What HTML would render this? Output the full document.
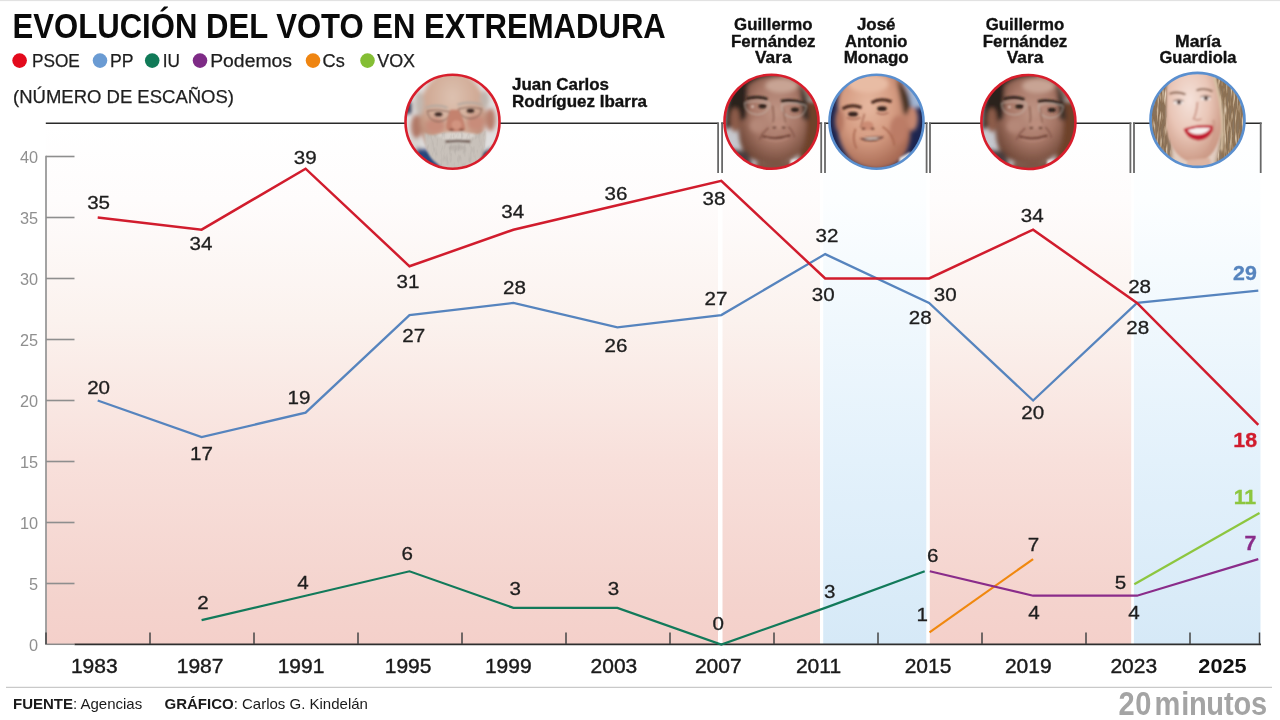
<!DOCTYPE html><html><head><meta charset="utf-8"><title>Evolución del voto en Extremadura</title>
<style>html,body{margin:0;padding:0;background:#fff;}body{width:1280px;height:720px;overflow:hidden;}svg{display:block;}text{font-family:"Liberation Sans", Arial, sans-serif;}</style></head><body>
<svg width="1280" height="720" viewBox="0 0 1280 720">
<defs>
<linearGradient id="gp" x1="0" y1="0" x2="0" y2="1"><stop offset="0" stop-color="#ffffff"/><stop offset="0.148" stop-color="#fefcfc"/><stop offset="0.378" stop-color="#fbf2ee"/><stop offset="0.647" stop-color="#f8e0db"/><stop offset="0.916" stop-color="#f4d3cd"/><stop offset="1" stop-color="#f4d0ca"/></linearGradient>
<linearGradient id="gb" x1="0" y1="0" x2="0" y2="1"><stop offset="0" stop-color="#ffffff"/><stop offset="0.148" stop-color="#fcfeff"/><stop offset="0.378" stop-color="#f0f8fd"/><stop offset="0.647" stop-color="#e3f1fb"/><stop offset="0.916" stop-color="#d9ebf8"/><stop offset="1" stop-color="#d6e9f7"/></linearGradient>
</defs>
<rect x="0" y="0" width="1280" height="720" fill="#fff"/>
<rect x="0" y="0" width="1280" height="1.1" fill="#e2e2e2"/>
<rect x="46.0" y="123" width="672.0" height="521" fill="url(#gp)"/>
<rect x="722.5" y="123" width="97.5" height="521" fill="url(#gp)"/>
<rect x="823.2" y="123" width="103.1" height="521" fill="url(#gb)"/>
<rect x="929.8" y="123" width="201.4" height="521" fill="url(#gp)"/>
<rect x="1133.9" y="123" width="126.6" height="521" fill="url(#gb)"/>
<text x="12.6" y="38.2" font-size="34.2" font-weight="bold" fill="#0a0a0a" textLength="653.2" lengthAdjust="spacingAndGlyphs">EVOLUCIÓN DEL VOTO EN EXTREMADURA</text>
<circle cx="19.6" cy="60.6" r="7.3" fill="#e30a1c"/>
<text x="31.9" y="66.6" font-size="18" fill="#1e1e1e" stroke="#1e1e1e" stroke-width="0.25" textLength="47.9" lengthAdjust="spacingAndGlyphs">PSOE</text>
<circle cx="100.0" cy="60.6" r="7.3" fill="#6a9bd3"/>
<text x="110.1" y="66.6" font-size="18" fill="#1e1e1e" stroke="#1e1e1e" stroke-width="0.25" textLength="23.5" lengthAdjust="spacingAndGlyphs">PP</text>
<circle cx="152.2" cy="60.6" r="7.3" fill="#117a58"/>
<text x="162.8" y="66.6" font-size="18" fill="#1e1e1e" stroke="#1e1e1e" stroke-width="0.25" textLength="17.2" lengthAdjust="spacingAndGlyphs">IU</text>
<circle cx="200.0" cy="60.6" r="7.3" fill="#7e2b86"/>
<text x="210.2" y="66.6" font-size="18" fill="#1e1e1e" stroke="#1e1e1e" stroke-width="0.25" textLength="81.8" lengthAdjust="spacingAndGlyphs">Podemos</text>
<circle cx="313.0" cy="60.6" r="7.3" fill="#ef8511"/>
<text x="322.6" y="66.6" font-size="18" fill="#1e1e1e" stroke="#1e1e1e" stroke-width="0.25" textLength="22.2" lengthAdjust="spacingAndGlyphs">Cs</text>
<circle cx="367.5" cy="60.6" r="7.3" fill="#84be34"/>
<text x="377.2" y="66.6" font-size="18" fill="#1e1e1e" stroke="#1e1e1e" stroke-width="0.25" textLength="37.9" lengthAdjust="spacingAndGlyphs">VOX</text>
<text x="13" y="102.7" font-size="18.4" fill="#1e1e1e" stroke="#1e1e1e" stroke-width="0.25" textLength="221" lengthAdjust="spacingAndGlyphs">(NÚMERO DE ESCAÑOS)</text>
<text x="512.0" y="90.4" font-size="17" font-weight="bold" fill="#111" stroke="#111" stroke-width="0.35" text-anchor="start" textLength="97.0" lengthAdjust="spacingAndGlyphs">Juan Carlos</text>
<text x="512.0" y="107.3" font-size="17" font-weight="bold" fill="#111" stroke="#111" stroke-width="0.35" text-anchor="start" textLength="135.0" lengthAdjust="spacingAndGlyphs">Rodríguez Ibarra</text>
<text x="773.3" y="29.5" font-size="17" font-weight="bold" fill="#111" stroke="#111" stroke-width="0.35" text-anchor="middle" textLength="78.5" lengthAdjust="spacingAndGlyphs">Guillermo</text>
<text x="773.3" y="46.7" font-size="17" font-weight="bold" fill="#111" stroke="#111" stroke-width="0.35" text-anchor="middle" textLength="84.5" lengthAdjust="spacingAndGlyphs">Fernández</text>
<text x="773.3" y="63.3" font-size="17" font-weight="bold" fill="#111" stroke="#111" stroke-width="0.35" text-anchor="middle" textLength="36.5" lengthAdjust="spacingAndGlyphs">Vara</text>
<text x="876.2" y="29.5" font-size="17" font-weight="bold" fill="#111" stroke="#111" stroke-width="0.35" text-anchor="middle" textLength="38.5" lengthAdjust="spacingAndGlyphs">José</text>
<text x="876.2" y="46.7" font-size="17" font-weight="bold" fill="#111" stroke="#111" stroke-width="0.35" text-anchor="middle" textLength="62.5" lengthAdjust="spacingAndGlyphs">Antonio</text>
<text x="876.2" y="63.3" font-size="17" font-weight="bold" fill="#111" stroke="#111" stroke-width="0.35" text-anchor="middle" textLength="65.0" lengthAdjust="spacingAndGlyphs">Monago</text>
<text x="1025.0" y="29.5" font-size="17" font-weight="bold" fill="#111" stroke="#111" stroke-width="0.35" text-anchor="middle" textLength="78.5" lengthAdjust="spacingAndGlyphs">Guillermo</text>
<text x="1025.0" y="46.7" font-size="17" font-weight="bold" fill="#111" stroke="#111" stroke-width="0.35" text-anchor="middle" textLength="84.5" lengthAdjust="spacingAndGlyphs">Fernández</text>
<text x="1025.0" y="63.3" font-size="17" font-weight="bold" fill="#111" stroke="#111" stroke-width="0.35" text-anchor="middle" textLength="36.5" lengthAdjust="spacingAndGlyphs">Vara</text>
<text x="1198.0" y="46.7" font-size="17" font-weight="bold" fill="#111" stroke="#111" stroke-width="0.35" text-anchor="middle" textLength="46.0" lengthAdjust="spacingAndGlyphs">María</text>
<text x="1198.0" y="63.3" font-size="17" font-weight="bold" fill="#111" stroke="#111" stroke-width="0.35" text-anchor="middle" textLength="77.0" lengthAdjust="spacingAndGlyphs">Guardiola</text>
<line x1="46" y1="155.8" x2="46" y2="645" stroke="#999" stroke-width="1.8"/>
<text x="38" y="650.6" font-size="16.3" fill="#8f8f8f" text-anchor="end">0</text>
<line x1="46" y1="583.5" x2="74.5" y2="583.5" stroke="#8e8e8e" stroke-width="1.6"/>
<text x="38" y="589.6" font-size="16.3" fill="#8f8f8f" text-anchor="end">5</text>
<line x1="46" y1="522.5" x2="74.5" y2="522.5" stroke="#8e8e8e" stroke-width="1.6"/>
<text x="38" y="528.6" font-size="16.3" fill="#8f8f8f" text-anchor="end">10</text>
<line x1="46" y1="461.5" x2="74.5" y2="461.5" stroke="#8e8e8e" stroke-width="1.6"/>
<text x="38" y="467.6" font-size="16.3" fill="#8f8f8f" text-anchor="end">15</text>
<line x1="46" y1="400.5" x2="74.5" y2="400.5" stroke="#8e8e8e" stroke-width="1.6"/>
<text x="38" y="406.6" font-size="16.3" fill="#8f8f8f" text-anchor="end">20</text>
<line x1="46" y1="339.5" x2="74.5" y2="339.5" stroke="#8e8e8e" stroke-width="1.6"/>
<text x="38" y="345.6" font-size="16.3" fill="#8f8f8f" text-anchor="end">25</text>
<line x1="46" y1="278.5" x2="74.5" y2="278.5" stroke="#8e8e8e" stroke-width="1.6"/>
<text x="38" y="284.6" font-size="16.3" fill="#8f8f8f" text-anchor="end">30</text>
<line x1="46" y1="217.5" x2="74.5" y2="217.5" stroke="#8e8e8e" stroke-width="1.6"/>
<text x="38" y="223.6" font-size="16.3" fill="#8f8f8f" text-anchor="end">35</text>
<line x1="46" y1="156.5" x2="74.5" y2="156.5" stroke="#8e8e8e" stroke-width="1.6"/>
<text x="38" y="162.6" font-size="16.3" fill="#8f8f8f" text-anchor="end">40</text>
<line x1="45.5" y1="644.3" x2="74.5" y2="644.3" stroke="#8a8a8a" stroke-width="1.5"/>
<line x1="74.5" y1="644.3" x2="1261" y2="644.3" stroke="#2e2e2e" stroke-width="1.7"/>
<line x1="46.0" y1="632.5" x2="46.0" y2="644" stroke="#444" stroke-width="1.5"/>
<line x1="150.0" y1="632.5" x2="150.0" y2="644" stroke="#444" stroke-width="1.5"/>
<line x1="254.0" y1="632.5" x2="254.0" y2="644" stroke="#444" stroke-width="1.5"/>
<line x1="358.0" y1="632.5" x2="358.0" y2="644" stroke="#444" stroke-width="1.5"/>
<line x1="462.0" y1="632.5" x2="462.0" y2="644" stroke="#444" stroke-width="1.5"/>
<line x1="566.0" y1="632.5" x2="566.0" y2="644" stroke="#444" stroke-width="1.5"/>
<line x1="670.0" y1="632.5" x2="670.0" y2="644" stroke="#444" stroke-width="1.5"/>
<line x1="774.0" y1="632.5" x2="774.0" y2="644" stroke="#444" stroke-width="1.5"/>
<line x1="878.0" y1="632.5" x2="878.0" y2="644" stroke="#444" stroke-width="1.5"/>
<line x1="982.0" y1="632.5" x2="982.0" y2="644" stroke="#444" stroke-width="1.5"/>
<line x1="1086.0" y1="632.5" x2="1086.0" y2="644" stroke="#444" stroke-width="1.5"/>
<line x1="1190.0" y1="632.5" x2="1190.0" y2="644" stroke="#444" stroke-width="1.5"/>
<line x1="1259.5" y1="632.5" x2="1259.5" y2="644" stroke="#444" stroke-width="1.5"/>
<text x="0" y="0" transform="translate(94.3 672.8) scale(1.03 1)" font-size="20.4" fill="#1a1a1a" stroke="#1a1a1a" stroke-width="0.4" text-anchor="middle">1983</text>
<text x="0" y="0" transform="translate(200.1 672.8) scale(1.03 1)" font-size="20.4" fill="#1a1a1a" stroke="#1a1a1a" stroke-width="0.4" text-anchor="middle">1987</text>
<text x="0" y="0" transform="translate(301.0 672.8) scale(1.03 1)" font-size="20.4" fill="#1a1a1a" stroke="#1a1a1a" stroke-width="0.4" text-anchor="middle">1991</text>
<text x="0" y="0" transform="translate(408.1 672.8) scale(1.03 1)" font-size="20.4" fill="#1a1a1a" stroke="#1a1a1a" stroke-width="0.4" text-anchor="middle">1995</text>
<text x="0" y="0" transform="translate(508.3 672.8) scale(1.03 1)" font-size="20.4" fill="#1a1a1a" stroke="#1a1a1a" stroke-width="0.4" text-anchor="middle">1999</text>
<text x="0" y="0" transform="translate(613.9 672.8) scale(1.03 1)" font-size="20.4" fill="#1a1a1a" stroke="#1a1a1a" stroke-width="0.4" text-anchor="middle">2003</text>
<text x="0" y="0" transform="translate(718.3 672.8) scale(1.03 1)" font-size="20.4" fill="#1a1a1a" stroke="#1a1a1a" stroke-width="0.4" text-anchor="middle">2007</text>
<text x="0" y="0" transform="translate(818.5 672.8) scale(1.03 1)" font-size="20.4" fill="#1a1a1a" stroke="#1a1a1a" stroke-width="0.4" text-anchor="middle">2011</text>
<text x="0" y="0" transform="translate(928.0 672.8) scale(1.03 1)" font-size="20.4" fill="#1a1a1a" stroke="#1a1a1a" stroke-width="0.4" text-anchor="middle">2015</text>
<text x="0" y="0" transform="translate(1028.3 672.8) scale(1.03 1)" font-size="20.4" fill="#1a1a1a" stroke="#1a1a1a" stroke-width="0.4" text-anchor="middle">2019</text>
<text x="0" y="0" transform="translate(1133.8 672.8) scale(1.03 1)" font-size="20.4" fill="#1a1a1a" stroke="#1a1a1a" stroke-width="0.4" text-anchor="middle">2023</text>
<text x="0" y="0" transform="translate(1222.5 672.8) scale(1.065 1)" font-size="20.4" font-weight="bold" fill="#111" text-anchor="middle">2025</text>
<line x1="45.8" y1="123.2" x2="718.6" y2="123.2" stroke="#2a2a2a" stroke-width="1.5"/>
<line x1="721.2" y1="123.2" x2="822.1" y2="123.2" stroke="#2a2a2a" stroke-width="1.5"/>
<line x1="824.1" y1="123.2" x2="927.5" y2="123.2" stroke="#2a2a2a" stroke-width="1.5"/>
<line x1="929.1" y1="123.2" x2="1131.3" y2="123.2" stroke="#2a2a2a" stroke-width="1.5"/>
<line x1="1133.1" y1="123.2" x2="1261.6" y2="123.2" stroke="#2a2a2a" stroke-width="1.5"/>
<line x1="718.1" y1="122.5" x2="718.1" y2="173" stroke="#686868" stroke-width="1.8"/>
<line x1="722.1" y1="122.5" x2="722.1" y2="173" stroke="#686868" stroke-width="1.8"/>
<line x1="821.2" y1="122.5" x2="821.2" y2="173" stroke="#686868" stroke-width="1.8"/>
<line x1="825.0" y1="122.5" x2="825.0" y2="173" stroke="#686868" stroke-width="1.8"/>
<line x1="926.6" y1="122.5" x2="926.6" y2="173" stroke="#686868" stroke-width="1.8"/>
<line x1="930.0" y1="122.5" x2="930.0" y2="173" stroke="#686868" stroke-width="1.8"/>
<line x1="1130.4" y1="122.5" x2="1130.4" y2="173" stroke="#686868" stroke-width="1.8"/>
<line x1="1134.0" y1="122.5" x2="1134.0" y2="173" stroke="#686868" stroke-width="1.8"/>
<line x1="1260.7" y1="122.5" x2="1260.7" y2="173" stroke="#686868" stroke-width="1.8"/>
<polyline points="97.7,400.5 201.6,437.1 305.6,412.7 409.5,315.1 513.4,302.9 617.4,327.3 721.3,315.1 825.2,254.1 929.1,302.9 1033.1,400.5 1137.0,302.9 1258.3,290.7" fill="none" stroke="#5684be" stroke-width="2.3" stroke-linejoin="miter" stroke-linecap="butt"/>
<polyline points="97.7,217.5 201.6,229.7 305.6,168.7 409.5,266.3 513.4,229.7 617.4,205.3 721.3,180.9 825.2,278.5 929.1,278.5 1033.1,229.7 1137.0,302.9 1258.3,424.9" fill="none" stroke="#d11c2d" stroke-width="2.5" stroke-linejoin="miter" stroke-linecap="butt"/>
<polyline points="201.6,620.1 305.6,595.7 409.5,571.3 513.4,607.9 617.4,607.9 721.3,644.5 825.2,607.9 924.7,571.3" fill="none" stroke="#127a5a" stroke-width="2.2" stroke-linejoin="miter" stroke-linecap="butt"/>
<polyline points="929.5,632.3 1033.1,559.1" fill="none" stroke="#f0880f" stroke-width="2.2" stroke-linejoin="miter" stroke-linecap="butt"/>
<polyline points="929.8,571.3 1033.1,595.7 1137.0,595.7 1258.3,559.1" fill="none" stroke="#8a2c8a" stroke-width="2.2" stroke-linejoin="miter" stroke-linecap="butt"/>
<polyline points="1134.3,584.3 1259.5,513.0" fill="none" stroke="#8dc63f" stroke-width="2.2" stroke-linejoin="miter" stroke-linecap="butt"/>
<text x="0" y="0" transform="translate(98.6 208.6) scale(1.120 1)" font-size="18.4" fill="#1e1e1e" stroke="#1e1e1e" stroke-width="0.3" text-anchor="middle">35</text>
<text x="0" y="0" transform="translate(201.0 249.8) scale(1.120 1)" font-size="18.4" fill="#1e1e1e" stroke="#1e1e1e" stroke-width="0.3" text-anchor="middle">34</text>
<text x="0" y="0" transform="translate(305.3 164.1) scale(1.120 1)" font-size="18.4" fill="#1e1e1e" stroke="#1e1e1e" stroke-width="0.3" text-anchor="middle">39</text>
<text x="0" y="0" transform="translate(408.0 288.0) scale(1.120 1)" font-size="18.4" fill="#1e1e1e" stroke="#1e1e1e" stroke-width="0.3" text-anchor="middle">31</text>
<text x="0" y="0" transform="translate(512.8 218.4) scale(1.120 1)" font-size="18.4" fill="#1e1e1e" stroke="#1e1e1e" stroke-width="0.3" text-anchor="middle">34</text>
<text x="0" y="0" transform="translate(616.0 199.6) scale(1.120 1)" font-size="18.4" fill="#1e1e1e" stroke="#1e1e1e" stroke-width="0.3" text-anchor="middle">36</text>
<text x="0" y="0" transform="translate(714.0 204.8) scale(1.120 1)" font-size="18.4" fill="#1e1e1e" stroke="#1e1e1e" stroke-width="0.3" text-anchor="middle">38</text>
<text x="0" y="0" transform="translate(823.2 300.9) scale(1.120 1)" font-size="18.4" fill="#1e1e1e" stroke="#1e1e1e" stroke-width="0.3" text-anchor="middle">30</text>
<text x="0" y="0" transform="translate(945.3 301.0) scale(1.120 1)" font-size="18.4" fill="#1e1e1e" stroke="#1e1e1e" stroke-width="0.3" text-anchor="middle">30</text>
<text x="0" y="0" transform="translate(1032.3 221.6) scale(1.120 1)" font-size="18.4" fill="#1e1e1e" stroke="#1e1e1e" stroke-width="0.3" text-anchor="middle">34</text>
<text x="0" y="0" transform="translate(1139.6 292.8) scale(1.120 1)" font-size="18.4" fill="#1e1e1e" stroke="#1e1e1e" stroke-width="0.3" text-anchor="middle">28</text>
<text x="0" y="0" transform="translate(98.6 393.9) scale(1.120 1)" font-size="18.4" fill="#1e1e1e" stroke="#1e1e1e" stroke-width="0.3" text-anchor="middle">20</text>
<text x="0" y="0" transform="translate(201.5 460.0) scale(1.120 1)" font-size="18.4" fill="#1e1e1e" stroke="#1e1e1e" stroke-width="0.3" text-anchor="middle">17</text>
<text x="0" y="0" transform="translate(299.0 404.1) scale(1.120 1)" font-size="18.4" fill="#1e1e1e" stroke="#1e1e1e" stroke-width="0.3" text-anchor="middle">19</text>
<text x="0" y="0" transform="translate(413.7 341.6) scale(1.120 1)" font-size="18.4" fill="#1e1e1e" stroke="#1e1e1e" stroke-width="0.3" text-anchor="middle">27</text>
<text x="0" y="0" transform="translate(514.4 294.0) scale(1.120 1)" font-size="18.4" fill="#1e1e1e" stroke="#1e1e1e" stroke-width="0.3" text-anchor="middle">28</text>
<text x="0" y="0" transform="translate(616.0 351.6) scale(1.120 1)" font-size="18.4" fill="#1e1e1e" stroke="#1e1e1e" stroke-width="0.3" text-anchor="middle">26</text>
<text x="0" y="0" transform="translate(716.0 305.3) scale(1.120 1)" font-size="18.4" fill="#1e1e1e" stroke="#1e1e1e" stroke-width="0.3" text-anchor="middle">27</text>
<text x="0" y="0" transform="translate(827.0 242.1) scale(1.120 1)" font-size="18.4" fill="#1e1e1e" stroke="#1e1e1e" stroke-width="0.3" text-anchor="middle">32</text>
<text x="0" y="0" transform="translate(920.2 324.3) scale(1.120 1)" font-size="18.4" fill="#1e1e1e" stroke="#1e1e1e" stroke-width="0.3" text-anchor="middle">28</text>
<text x="0" y="0" transform="translate(1032.8 419.2) scale(1.120 1)" font-size="18.4" fill="#1e1e1e" stroke="#1e1e1e" stroke-width="0.3" text-anchor="middle">20</text>
<text x="0" y="0" transform="translate(1137.8 333.9) scale(1.120 1)" font-size="18.4" fill="#1e1e1e" stroke="#1e1e1e" stroke-width="0.3" text-anchor="middle">28</text>
<text x="0" y="0" transform="translate(203.0 609.0) scale(1.120 1)" font-size="18.4" fill="#1e1e1e" stroke="#1e1e1e" stroke-width="0.3" text-anchor="middle">2</text>
<text x="0" y="0" transform="translate(302.9 588.9) scale(1.120 1)" font-size="18.4" fill="#1e1e1e" stroke="#1e1e1e" stroke-width="0.3" text-anchor="middle">4</text>
<text x="0" y="0" transform="translate(407.2 560.3) scale(1.120 1)" font-size="18.4" fill="#1e1e1e" stroke="#1e1e1e" stroke-width="0.3" text-anchor="middle">6</text>
<text x="0" y="0" transform="translate(515.2 595.0) scale(1.120 1)" font-size="18.4" fill="#1e1e1e" stroke="#1e1e1e" stroke-width="0.3" text-anchor="middle">3</text>
<text x="0" y="0" transform="translate(613.4 595.0) scale(1.120 1)" font-size="18.4" fill="#1e1e1e" stroke="#1e1e1e" stroke-width="0.3" text-anchor="middle">3</text>
<text x="0" y="0" transform="translate(718.3 629.7) scale(1.120 1)" font-size="18.4" fill="#1e1e1e" stroke="#1e1e1e" stroke-width="0.3" text-anchor="middle">0</text>
<text x="0" y="0" transform="translate(829.8 598.0) scale(1.120 1)" font-size="18.4" fill="#1e1e1e" stroke="#1e1e1e" stroke-width="0.3" text-anchor="middle">3</text>
<text x="0" y="0" transform="translate(932.7 561.9) scale(1.120 1)" font-size="18.4" fill="#1e1e1e" stroke="#1e1e1e" stroke-width="0.3" text-anchor="middle">6</text>
<text x="0" y="0" transform="translate(1034.0 619.0) scale(1.120 1)" font-size="18.4" fill="#1e1e1e" stroke="#1e1e1e" stroke-width="0.3" text-anchor="middle">4</text>
<text x="0" y="0" transform="translate(1134.0 619.0) scale(1.120 1)" font-size="18.4" fill="#1e1e1e" stroke="#1e1e1e" stroke-width="0.3" text-anchor="middle">4</text>
<text x="0" y="0" transform="translate(922.3 620.9) scale(1.120 1)" font-size="18.4" fill="#1e1e1e" stroke="#1e1e1e" stroke-width="0.3" text-anchor="middle">1</text>
<text x="0" y="0" transform="translate(1033.4 550.8) scale(1.120 1)" font-size="18.4" fill="#1e1e1e" stroke="#1e1e1e" stroke-width="0.3" text-anchor="middle">7</text>
<text x="0" y="0" transform="translate(1120.5 589.0) scale(1.120 1)" font-size="18.4" fill="#1e1e1e" stroke="#1e1e1e" stroke-width="0.3" text-anchor="middle">5</text>
<text x="0" y="0" transform="translate(1257.0 446.9) scale(1.100 1)" font-size="19.4" fill="#d11c2d" stroke="#d11c2d" stroke-width="0.3" text-anchor="end" font-weight="bold">18</text>
<text x="0" y="0" transform="translate(1256.8 279.9) scale(1.100 1)" font-size="19.4" fill="#5684be" stroke="#5684be" stroke-width="0.3" text-anchor="end" font-weight="bold">29</text>
<text x="0" y="0" transform="translate(1256.2 503.9) scale(1.100 1)" font-size="19.4" fill="#8dc63f" stroke="#8dc63f" stroke-width="0.3" text-anchor="end" font-weight="bold">11</text>
<text x="0" y="0" transform="translate(1256.4 550.1) scale(1.100 1)" font-size="19.4" fill="#8a2c8a" stroke="#8a2c8a" stroke-width="0.3" text-anchor="end" font-weight="bold">7</text>
<defs>
<clipPath id="cc"><circle cx="0" cy="0" r="47.2"/></clipPath>
<filter id="bl1" x="-20%" y="-20%" width="140%" height="140%"><feGaussianBlur stdDeviation="0.9"/></filter>
<filter id="bl2" x="-30%" y="-30%" width="160%" height="160%"><feGaussianBlur stdDeviation="2.2"/></filter>
<filter id="bl3" x="-30%" y="-30%" width="160%" height="160%"><feGaussianBlur stdDeviation="4"/></filter>
<radialGradient id="skIb" cx="0.5" cy="0.3" r="0.7"><stop offset="0" stop-color="#ddc2b1"/><stop offset="0.6" stop-color="#cfa792"/><stop offset="1" stop-color="#b07c68"/></radialGradient>
<radialGradient id="skVa" cx="0.55" cy="0.42" r="0.62"><stop offset="0" stop-color="#c09686"/><stop offset="0.55" stop-color="#a87868"/><stop offset="1" stop-color="#6e4636"/></radialGradient>
<radialGradient id="skMo" cx="0.42" cy="0.35" r="0.65"><stop offset="0" stop-color="#e6b8a0"/><stop offset="0.55" stop-color="#d59c82"/><stop offset="1" stop-color="#a86a54"/></radialGradient>
<radialGradient id="skGu" cx="0.42" cy="0.35" r="0.65"><stop offset="0" stop-color="#f5e2da"/><stop offset="0.55" stop-color="#e9c6b7"/><stop offset="1" stop-color="#cc9a86"/></radialGradient>
<linearGradient id="hairG" x1="0" y1="0" x2="1" y2="0"><stop offset="0" stop-color="#7a5e44"/><stop offset="0.3" stop-color="#c4a47e"/><stop offset="0.5" stop-color="#8a6c50"/><stop offset="0.7" stop-color="#cdb08a"/><stop offset="1" stop-color="#6e5540"/></linearGradient>
<filter id="tex" x="0" y="0" width="100%" height="100%"><feTurbulence type="fractalNoise" baseFrequency="0.35 0.12" numOctaves="2" seed="4" result="n"/><feColorMatrix in="n" type="matrix" values="0 0 0 0 0.35  0 0 0 0 0.32  0 0 0 0 0.30  2.2 0 0 0 -1.05" result="c"/><feComposite in="c" in2="SourceGraphic" operator="in"/></filter>
<filter id="hairtex" x="0" y="0" width="100%" height="100%"><feTurbulence type="fractalNoise" baseFrequency="0.45 0.06" numOctaves="2" seed="7" result="n"/><feColorMatrix in="n" type="matrix" values="0 0 0 0 0.25  0 0 0 0 0.18  0 0 0 0 0.12  3 0 0 0 -1.3" result="d"/><feColorMatrix in="n" type="matrix" values="0 0 0 0 0.86  0 0 0 0 0.74  0 0 0 0 0.58  -3 0 0 0 1.55" result="l"/><feMerge result="m"><feMergeNode in="d"/><feMergeNode in="l"/></feMerge><feComposite in="m" in2="SourceGraphic" operator="in"/></filter>
</defs>
<g transform="translate(452.5 121.7)">
<g clip-path="url(#cc)">

<rect x="-50" y="-50" width="100" height="100" fill="#e0dfdf"/>
<g filter="url(#bl2)">
<rect x="-50" y="-20" width="9" height="12" fill="#2e3450"/>
<rect x="-50" y="16" width="18" height="24" fill="#d8d4d0"/>
<ellipse cx="-36" cy="5" rx="5.5" ry="12" fill="#b07866"/>
<ellipse cx="38" cy="-2" rx="5" ry="11.5" fill="#b87e6c"/>
<ellipse cx="0" cy="-6" rx="33.5" ry="45" fill="url(#skIb)"/>
<ellipse cx="-33" cy="-18" rx="4.5" ry="12" fill="#c2b8b0"/>
<ellipse cx="32" cy="-22" rx="4.5" ry="9" fill="#bfb5ad"/>
<ellipse cx="-17" cy="4" rx="10" ry="8" fill="#c88c7a"/>
<ellipse cx="23" cy="1" rx="9" ry="8" fill="#c88c7a"/>
<path d="M-36 26 L-14 30 L-10 52 L-42 52 Z" fill="#28457c"/>
<path d="M26 32 L42 26 L46 52 L24 52 Z" fill="#2c3250"/>
</g>
<g filter="url(#bl1)">
<path d="M-27 -14 Q-16 -18 -5 -14 M5 -17 Q17 -21 29 -17" stroke="#b8aaa0" stroke-width="2.2" fill="none"/>
<path d="M-25 -11 Q-14 -13 -3 -10 Q-3 -1 -14 0 Q-25 -1 -25 -11 Z M6 -13 Q18 -16 29 -13 Q29 -4 18 -3 Q7 -4 6 -13 Z" fill="none" stroke="#7a5a50" stroke-width="0.9"/>
<ellipse cx="-14" cy="-7.5" rx="3.8" ry="2" fill="#3a2824"/>
<ellipse cx="18" cy="-11" rx="3.8" ry="2" fill="#3a2824"/>
<path d="M-2 -12 Q-8 2 -6 8 Q3 12 13 8 Q12 -2 6 -12 Z" fill="#c4826e"/>
<ellipse cx="4" cy="3" rx="5" ry="4.5" fill="#d29480"/>
<ellipse cx="-1" cy="8" rx="2.5" ry="1.3" fill="#8a5244"/>
<ellipse cx="9" cy="8" rx="2.5" ry="1.3" fill="#8a5244"/>
<path d="M-28 11 Q-29 30 -18 40 Q-6 50 6 50 Q22 48 30 34 Q34 22 33 9 Q26 14 18 12 Q8 10 2 11 Q-6 10 -14 12 Q-22 15 -28 11 Z" fill="#c8c1ba"/>
<path d="M-15 13 Q2 8 23 12 Q21 18 4 18.5 Q-13 18 -15 13 Z" fill="#d9d3cd"/>
<path d="M-7 20 Q5 18.5 18 20" stroke="#5c4038" stroke-width="2.2" fill="none"/>
<ellipse cx="4" cy="26" rx="8" ry="3" fill="#bab2ac"/>
</g>
<path d="M-28 11 Q-29 30 -18 40 Q-6 50 6 50 Q22 48 30 34 Q34 22 33 9 Q26 14 18 12 Q8 10 2 11 Q-6 10 -14 12 Q-22 15 -28 11 Z" fill="#000" filter="url(#tex)" opacity="0.35"/>

</g>
<circle cx="0" cy="0" r="47" fill="none" stroke="#d81e2c" stroke-width="2.6"/>
</g>
<g transform="translate(771.5 121.7)">
<g clip-path="url(#cc)">

<rect x="-50" y="-50" width="100" height="100" fill="#c6c8ce"/>
<g filter="url(#bl2)">
<rect x="28" y="-20" width="24" height="72" fill="#6e432b"/>
<rect x="18" y="-52" width="34" height="30" fill="#8c786c"/>
<path d="M-31 -38 Q-10 -48 10 -47 Q30 -45 33 -26 L35 0 Q35 25 26 34 Q13 42 1 42 Q-18 41 -27 32 Q-34 20 -33 0 Z" fill="url(#skVa)"/>
<path d="M-46 8 Q-47 -36 -26 -50 L8 -54 L10 -46 Q-14 -46 -24 -36 L-25 -4 Z" fill="#2a221e"/>
<path d="M28 -38 Q38 -24 38 -2 L31 -2 Z" fill="#3e302a"/>
<ellipse cx="-36.5" cy="-2" rx="5" ry="12" fill="#8c5c4a"/>
<path d="M-48 26 L-24 30 L-16 52 L-50 52 Z" fill="#4a3e3c"/>
<ellipse cx="10" cy="-36" rx="16" ry="7" fill="#c8a494"/>
<ellipse cx="-14" cy="4" rx="8" ry="7" fill="#b58878"/>
<path d="M-14 40 Q2 44 22 38 L30 52 L-20 52 Z" fill="#7a5444"/>
</g>
<g filter="url(#bl1)">
<path d="M19 38 L25 37 L24 46 L18 47 Z" fill="#ecebea"/>
<path d="M-25 -23 Q-14 -26.5 -4 -22.5 M9.5 -20.5 Q21 -23 33 -18" stroke="#2e201a" stroke-width="2.8" fill="none"/>
<path d="M-27 -19 Q-14 -22 -2 -19 Q-2 -8 -14 -7 Q-27 -8 -27 -19 Z M10 -17 Q23 -20 35 -16 Q34 -5 22 -4 Q10 -5 10 -17 Z" fill="none" stroke="#c8c0b8" stroke-width="0.8"/>
<circle cx="-19" cy="-15" r="1.1" fill="#f4f0ec"/>
<ellipse cx="-9" cy="-15.5" rx="4" ry="2.2" fill="#2e201a"/>
<ellipse cx="23.5" cy="-12" rx="4" ry="2.2" fill="#2e201a"/>
<path d="M1 -16 Q3 -4 1.5 1" stroke="#8e6252" stroke-width="1.5" fill="none"/>
<path d="M12 -14 Q13 -4 14 1" stroke="#906454" stroke-width="1.3" fill="none"/>
<ellipse cx="7.5" cy="2.5" rx="6" ry="4.5" fill="#bc8e7e"/>
<ellipse cx="3" cy="5.8" rx="2" ry="1.1" fill="#5e382c"/>
<ellipse cx="12" cy="5.8" rx="2" ry="1.1" fill="#5e382c"/>
<path d="M-3 6 Q-10 12 -12 18 M17 5 Q22 10 23 16" stroke="#85574a" stroke-width="1.5" fill="none"/>
<path d="M-9 14.5 Q4 19 19 13.5" stroke="#6a3e32" stroke-width="2" fill="none"/>
<path d="M-6 16.8 Q5 21.5 16 16.3" stroke="#b88878" stroke-width="1.4" fill="none"/>
</g>

</g>
<circle cx="0" cy="0" r="47" fill="none" stroke="#d81e2c" stroke-width="2.6"/>
</g>
<g transform="translate(876.5 121.7)">
<g clip-path="url(#cc)">

<rect x="-50" y="-50" width="100" height="100" fill="#1c2550"/>
<g filter="url(#bl2)">
<path d="M24 -52 L52 -52 L52 -14 L34 -14 Z" fill="#a2b6d4"/>
<path d="M-39 -14 Q-40 -47 -4 -51 Q30 -51 34 -20 L34 12 Q32 44 2 48 Q-30 47 -38 14 Z" fill="url(#skMo)"/>
<path d="M20 -42 Q36 -30 35 -6 L27 -8 Z" fill="#4a3428"/>
<ellipse cx="36" cy="-3" rx="5.5" ry="12" fill="#c48670"/>
<ellipse cx="-37" cy="-1" rx="4.5" ry="12" fill="#b47660"/>
<ellipse cx="-8" cy="-38" rx="20" ry="9" fill="#e8bca4"/>
<ellipse cx="22" cy="8" rx="9" ry="14" fill="#bc7c66"/>
<path d="M-44 30 L-24 40 L-22 52 L-48 52 Z" fill="#1c2348"/>
</g>
<g filter="url(#bl1)">
<path d="M-34 -13 Q-25 -18.5 -15 -14 M-5 -19 Q4 -24.5 15 -20" stroke="#46281e" stroke-width="3" fill="none"/>
<ellipse cx="-23.5" cy="-7.5" rx="4.8" ry="2.4" fill="#34201a"/>
<ellipse cx="5.5" cy="-13" rx="4.8" ry="2.4" fill="#34201a"/>
<path d="M-30 -4 Q-23 -1 -16 -4 M0 -9 Q6 -6 12 -9" stroke="#a86a56" stroke-width="1.4" fill="none"/>
<path d="M-12 -8 Q-15 3 -16 6" stroke="#a86a56" stroke-width="1.4" fill="none"/>
<ellipse cx="-9" cy="4" rx="6" ry="4.5" fill="#cc8c74"/>
<ellipse cx="-13" cy="7" rx="2" ry="1.1" fill="#6e3a2c"/>
<ellipse cx="-4" cy="7" rx="2" ry="1.1" fill="#6e3a2c"/>
<path d="M-17 17 Q-6 14 8 15 Q-4 23 -17 17 Z" fill="#5a2e26"/>
<path d="M-14 17 Q-5 15.5 5 16 Q-4 19 -14 17 Z" fill="#eee2da"/>
<path d="M6 5 Q17 12 18 24 M-21 7 Q-25 17 -20 27" stroke="#a8664f" stroke-width="1.6" fill="none"/>
<path d="M23 36 L34 30 L34 44 L22 46 Z" fill="#e8e8ea"/>
</g>

</g>
<circle cx="0" cy="0" r="47" fill="none" stroke="#5a8fcf" stroke-width="2.6"/>
</g>
<g transform="translate(1028.4 122.0)">
<g clip-path="url(#cc)">

<rect x="-50" y="-50" width="100" height="100" fill="#c6c8ce"/>
<g filter="url(#bl2)">
<rect x="28" y="-20" width="24" height="72" fill="#6e432b"/>
<rect x="18" y="-52" width="34" height="30" fill="#8c786c"/>
<path d="M-31 -38 Q-10 -48 10 -47 Q30 -45 33 -26 L35 0 Q35 25 26 34 Q13 42 1 42 Q-18 41 -27 32 Q-34 20 -33 0 Z" fill="url(#skVa)"/>
<path d="M-46 8 Q-47 -36 -26 -50 L8 -54 L10 -46 Q-14 -46 -24 -36 L-25 -4 Z" fill="#2a221e"/>
<path d="M28 -38 Q38 -24 38 -2 L31 -2 Z" fill="#3e302a"/>
<ellipse cx="-36.5" cy="-2" rx="5" ry="12" fill="#8c5c4a"/>
<path d="M-48 26 L-24 30 L-16 52 L-50 52 Z" fill="#4a3e3c"/>
<ellipse cx="10" cy="-36" rx="16" ry="7" fill="#c8a494"/>
<ellipse cx="-14" cy="4" rx="8" ry="7" fill="#b58878"/>
<path d="M-14 40 Q2 44 22 38 L30 52 L-20 52 Z" fill="#7a5444"/>
</g>
<g filter="url(#bl1)">
<path d="M19 38 L25 37 L24 46 L18 47 Z" fill="#ecebea"/>
<path d="M-25 -23 Q-14 -26.5 -4 -22.5 M9.5 -20.5 Q21 -23 33 -18" stroke="#2e201a" stroke-width="2.8" fill="none"/>
<path d="M-27 -19 Q-14 -22 -2 -19 Q-2 -8 -14 -7 Q-27 -8 -27 -19 Z M10 -17 Q23 -20 35 -16 Q34 -5 22 -4 Q10 -5 10 -17 Z" fill="none" stroke="#c8c0b8" stroke-width="0.8"/>
<circle cx="-19" cy="-15" r="1.1" fill="#f4f0ec"/>
<ellipse cx="-9" cy="-15.5" rx="4" ry="2.2" fill="#2e201a"/>
<ellipse cx="23.5" cy="-12" rx="4" ry="2.2" fill="#2e201a"/>
<path d="M1 -16 Q3 -4 1.5 1" stroke="#8e6252" stroke-width="1.5" fill="none"/>
<path d="M12 -14 Q13 -4 14 1" stroke="#906454" stroke-width="1.3" fill="none"/>
<ellipse cx="7.5" cy="2.5" rx="6" ry="4.5" fill="#bc8e7e"/>
<ellipse cx="3" cy="5.8" rx="2" ry="1.1" fill="#5e382c"/>
<ellipse cx="12" cy="5.8" rx="2" ry="1.1" fill="#5e382c"/>
<path d="M-3 6 Q-10 12 -12 18 M17 5 Q22 10 23 16" stroke="#85574a" stroke-width="1.5" fill="none"/>
<path d="M-9 14.5 Q4 19 19 13.5" stroke="#6a3e32" stroke-width="2" fill="none"/>
<path d="M-6 16.8 Q5 21.5 16 16.3" stroke="#b88878" stroke-width="1.4" fill="none"/>
</g>

</g>
<circle cx="0" cy="0" r="47" fill="none" stroke="#d81e2c" stroke-width="2.6"/>
</g>
<g transform="translate(1197.5 119.9)">
<g clip-path="url(#cc)">

<rect x="-50" y="-50" width="100" height="100" fill="#e2cec2"/>
<g filter="url(#bl2)">
<path d="M-52 -34 L-28 -40 L-26 52 L-52 52 Z" fill="#8a6c50"/>
<path d="M6 -52 L52 -52 L52 52 L16 52 Q26 20 24 -4 Q22 -30 6 -52 Z" fill="#8e7050"/>
</g>
<path d="M-52 -34 L-28 -40 L-26 52 L-52 52 Z" fill="#000" filter="url(#hairtex)" opacity="0.9"/>
<path d="M6 -52 L52 -52 L52 52 L16 52 Q26 20 24 -4 Q22 -30 6 -52 Z" fill="#000" filter="url(#hairtex)" opacity="0.9"/>
<g filter="url(#bl1)">
<path d="M-31 -32 Q-26 -53 -4 -53 Q14 -53 18 -40 Q24 -20 24 4 Q22 38 -2 43 Q-26 40 -31 8 Z" fill="url(#skGu)"/>
<path d="M-10 40 L12 38 L16 52 L-12 52 Z" fill="#dcb4a2"/>
<path d="M16 -44 Q28 -10 24 30" stroke="#d8c2a4" stroke-width="2.5" fill="none"/>
<path d="M-28 -26 Q-20 -29 -12 -25.5 M-1 -29.5 Q7 -32.5 15 -28.5" stroke="#86604c" stroke-width="1.9" fill="none"/>
<ellipse cx="-19" cy="-17.5" rx="5" ry="2.2" fill="#f0e6e2"/>
<ellipse cx="8" cy="-21.5" rx="5" ry="2.2" fill="#f0e6e2"/>
<circle cx="-18.5" cy="-17.5" r="2.1" fill="#4a3630"/>
<circle cx="8.5" cy="-21.5" r="2.1" fill="#4a3630"/>
<path d="M-24 -19 Q-19 -21.5 -14 -19 M3 -23 Q8 -25.5 13.5 -23" stroke="#6a4a40" stroke-width="1" fill="none"/>
<path d="M0 -18 Q-1 -6 -4 -1 Q0 1 4 -1" stroke="#c89080" stroke-width="1.6" fill="none"/>
<path d="M-14 9 Q2 3 17 6 Q13 20 0 20.5 Q-11 19 -14 9 Z" fill="#c21f33"/>
<path d="M-10 10 Q2 6.5 13 8 Q9 14 0 14.5 Q-7 14 -10 10 Z" fill="#f6f0ee"/>
<path d="M16 0 Q20 20 8 34" stroke="#cf9e8c" stroke-width="3" fill="none"/>
</g>

</g>
<circle cx="0" cy="0" r="47" fill="none" stroke="#5a8fcf" stroke-width="2.6"/>
</g>
<line x1="6" y1="687.4" x2="1272" y2="687.4" stroke="#c9c9c9" stroke-width="1.1"/>
<text x="13" y="708.6" font-size="15" fill="#1a1a1a"><tspan font-weight="bold">FUENTE</tspan>: Agencias</text>
<text x="164.5" y="708.6" font-size="15" fill="#1a1a1a"><tspan font-weight="bold">GRÁFICO</tspan>: Carlos G. Kindelán</text>
<text transform="scale(0.88 1)" x="1280.3 1299.3 1326.7 1346.8 1361.1 1380.9 1396.5 1411.9 1430.8" y="714.75" text-anchor="middle" font-size="33" font-weight="bold" fill="#a4a4a4">20minutos</text>
</svg></body></html>
